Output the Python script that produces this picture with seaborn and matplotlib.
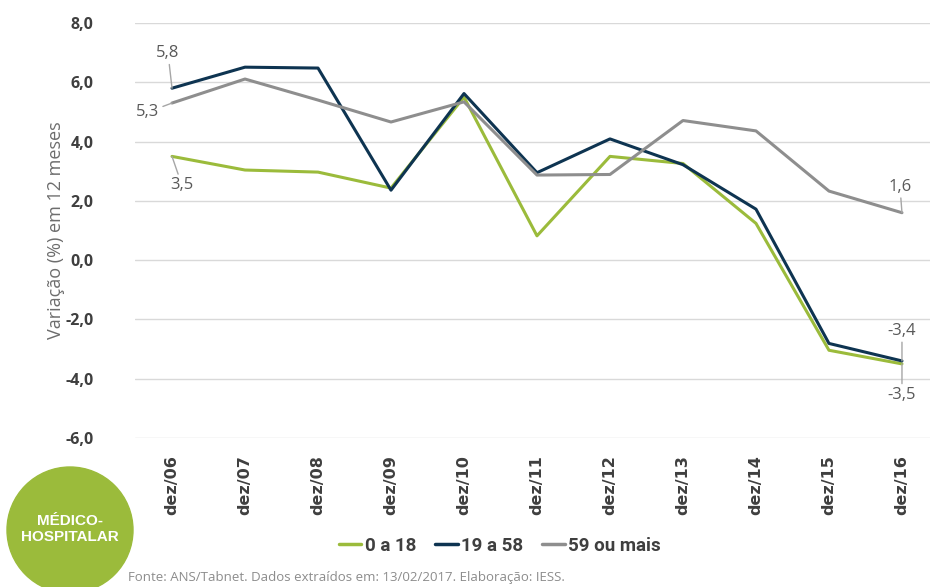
import matplotlib
matplotlib.use("Agg")
import matplotlib.pyplot as plt
import seaborn as sns
import pandas as pd
from matplotlib.patches import Ellipse
from matplotlib.lines import Line2D

periods = ["dez/06", "dez/07", "dez/08", "dez/09", "dez/10", "dez/11",
           "dez/12", "dez/13", "dez/14", "dez/15", "dez/16"]
s_0a18 = [3.5, 3.04, 2.97, 2.43, 5.5, 0.82, 3.5, 3.26, 1.24, -3.04, -3.5]
s_19a58 = [5.8, 6.51, 6.48, 2.36, 5.62, 2.95, 4.09, 3.22, 1.72, -2.81, -3.4]
s_59mais = [5.3, 6.11, 5.4, 4.66, 5.34, 2.87, 2.89, 4.71, 4.36, 2.33, 1.6]
series_names = ["0 a 18", "19 a 58", "59 ou mais"]
yticks = [-6, -4, -2, 0, 2, 4, 6, 8]

colors = {"0 a 18": "#9BBB3B", "19 a 58": "#0E3451", "59 ou mais": "#8E8E8E"}

rows = []
for name, vals in zip(series_names, [s_0a18, s_19a58, s_59mais]):
    for i, v in enumerate(vals):
        rows.append({"idx": i, "periodo": periods[i], "valor": v, "serie": name})
df = pd.DataFrame(rows)

sns.set_theme(style="white")
plt.rcParams['font.family'] = ['Open Sans', 'DejaVu Sans']

fig = plt.figure(figsize=(9.3, 5.87), dpi=100)
ax = fig.add_axes([135/930, 1-438/587, 1-135/930, (438-23)/587])

for y in yticks:
    ax.axhline(y, color="#D9D9D9", lw=1.0, zorder=0)

sns.lineplot(data=df, x="idx", y="valor", hue="serie", hue_order=series_names,
             palette=colors, linewidth=2.2, ax=ax, legend=False, zorder=3)

ax.set_xlim(-0.507, 10.384)
ax.set_ylim(-6, 8)
for s in ax.spines.values():
    s.set_visible(False)

ax.set_yticks(yticks)
ax.set_yticklabels([f"{v:.1f}".replace(".", ",") for v in yticks],
                   fontsize=11.5, fontweight="bold", color="#3F3F3F")
ax.tick_params(axis="y", length=0, pad=30)
ax.set_xticks(range(len(periods)))
ax.set_xticklabels(periods, rotation=90, fontsize=11.5, fontweight="bold",
                   color="#3F3F3F", family="DejaVu Sans")
ax.tick_params(axis="x", length=0, pad=12)
ax.set_xlabel("")
ax.set_ylabel("Variação (%) em 12 meses", fontsize=13, color="#6D6D6D", labelpad=6)
ax.yaxis.set_label_coords(-70/795, 0.5)

ann_kw = dict(textcoords="offset pixels", fontsize=12, color="#595959",
              arrowprops=dict(arrowstyle="-", color="#A6A6A6", lw=1.0, shrinkA=0, shrinkB=0))
ax.annotate("5,8", xy=(0, s_19a58[0]), xytext=(-4, 35), ha="center", va="center", **ann_kw)
ax.annotate("5,3", xy=(0, s_59mais[0]), xytext=(-24, -9), ha="center", va="center", **ann_kw)
ax.annotate("3,5", xy=(0, s_0a18[0]), xytext=(10, -29), ha="center", va="center", **ann_kw)
ax.annotate("1,6", xy=(10, s_59mais[10]), xytext=(-2, 26), ha="center", va="center", **ann_kw)
ax.annotate("-3,4", xy=(10, s_19a58[10]), xytext=(0, 30), ha="center", va="center", **ann_kw)
ax.annotate("-3,5", xy=(10, s_0a18[10]), xytext=(0, -31), ha="center", va="center", **ann_kw)

handles = [Line2D([0], [0], color=colors[n], lw=2.5) for n in series_names]
leg = fig.legend(handles, series_names, loc="center", bbox_to_anchor=(500/930, 1-546/587),
                 ncol=3, frameon=False, handlelength=1.2, handletextpad=0.2,
                 columnspacing=1.0, prop={"family": "Roboto", "weight": "bold", "size": 13.5})
for t in leg.get_texts():
    t.set_color("#3F3F3F")

circ = Ellipse((70/930, 1-530/587), width=126/930, height=126/587,
               transform=fig.transFigure, color="#9BBB3B", zorder=1)
fig.patches.append(circ)
fig.text(70/930, 1-529/587, "MÉDICO-\nHOSPITALAR", ha="center", va="center",
         color="white", fontsize=11, fontweight="bold", family="Liberation Sans",
         linespacing=1.25)

fig.text(128/930, 1-578/587, "Fonte: ANS/Tabnet. Dados extraídos em: 13/02/2017. Elaboração: IESS.",
         ha="left", va="center", fontsize=9.5, color="#8C8C8C")

fig.savefig("out.png", dpi=100)
